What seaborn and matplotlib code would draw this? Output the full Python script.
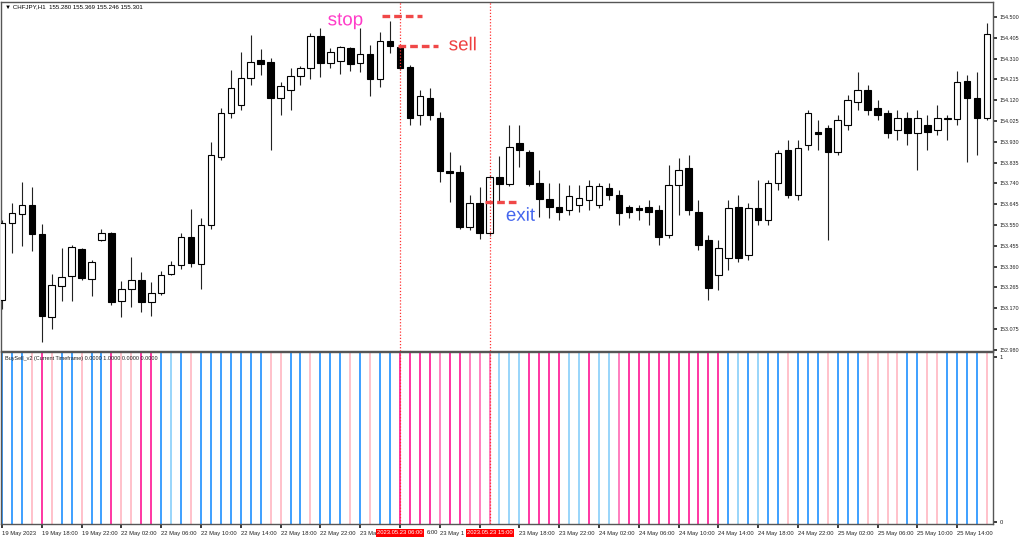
import numpy as np
import matplotlib
matplotlib.use('Agg')
import matplotlib.pyplot as plt
import matplotlib.patheffects as pe
import matplotlib.transforms as mtransforms
import seaborn as sns

sns.set_theme(style="white")
plt.rcParams['font.family'] = ['Liberation Sans', 'DejaVu Sans']

# ── candle data (CHFJPY H1) ─────────────────────────────────
opens = [153.208, 153.560, 153.601, 153.642, 153.509, 153.130, 153.272, 153.318, 153.441, 153.304,
         153.482, 153.514, 153.204, 153.258, 153.299, 153.199, 153.240, 153.327, 153.368, 153.496,
         153.373, 153.551, 153.861, 154.062, 154.098, 154.222, 154.304, 154.295, 154.130, 154.167,
         154.231, 154.267, 154.413, 154.290, 154.299, 154.358, 154.290, 154.331, 154.217, 154.390,
         154.363, 154.272, 154.052, 154.130, 154.039, 153.797, 153.792, 153.541, 153.651, 153.514,
         153.769, 153.737, 153.925, 153.884, 153.742, 153.669, 153.632, 153.619, 153.642, 153.664,
         153.642, 153.719, 153.687, 153.632, 153.628, 153.632, 153.619, 153.505, 153.733, 153.810,
         153.610, 153.482, 153.322, 153.400, 153.632, 153.413, 153.628, 153.573, 153.742, 153.893,
         153.687, 153.916, 153.975, 153.993, 153.884, 154.007, 154.112, 154.167, 154.085, 154.062,
         153.984, 154.039, 153.970, 154.007, 153.984, 154.034, 154.034, 154.208, 154.130, 154.039]
highs = [153.573, 153.651, 153.747, 153.724, 153.555, 153.327, 153.446, 153.459, 153.445, 153.391,
         153.532, 153.518, 153.295, 153.404, 153.336, 153.290, 153.340, 153.386, 153.514, 153.624,
         153.582, 153.929, 154.085, 154.258, 154.340, 154.418, 154.354, 154.313, 154.203, 154.267,
         154.276, 154.427, 154.450, 154.358, 154.365, 154.363, 154.450, 154.372, 154.432, 154.482,
         154.372, 154.281, 154.167, 154.176, 154.066, 153.884, 153.824, 153.687, 153.724, 153.779,
         153.865, 154.007, 154.007, 153.893, 153.801, 153.742, 153.742, 153.733, 153.733, 153.756,
         153.742, 153.742, 153.710, 153.642, 153.642, 153.664, 153.642, 153.824, 153.856, 153.870,
         153.664, 153.505, 153.482, 153.664, 153.687, 153.651, 153.756, 153.756, 153.893, 153.938,
         153.938, 154.075, 154.030, 154.007, 154.052, 154.144, 154.249, 154.190, 154.121, 154.075,
         154.075, 154.066, 154.075, 154.052, 154.098, 154.052, 154.253, 154.235, 154.249, 154.473]
lows = [153.167, 153.423, 153.455, 153.432, 153.016, 153.075, 153.204, 153.204, 153.300, 153.226,
        153.477, 153.185, 153.130, 153.176, 153.153, 153.135, 153.230, 153.322, 153.350, 153.359,
        153.258, 153.532, 153.847, 154.039, 154.075, 154.190, 154.235, 153.893, 154.052, 154.075,
        154.190, 154.217, 154.226, 154.267, 154.240, 154.253, 154.249, 154.139, 154.180, 154.336,
        154.258, 154.007, 154.007, 154.030, 153.747, 153.655, 153.532, 153.527, 153.486, 153.500,
        153.651, 153.728, 153.815, 153.728, 153.587, 153.582, 153.573, 153.596, 153.610, 153.619,
        153.628, 153.664, 153.550, 153.582, 153.573, 153.550, 153.459, 153.491, 153.596, 153.596,
        153.436, 153.208, 153.254, 153.345, 153.381, 153.390, 153.550, 153.550, 153.710, 153.674,
        153.664, 153.893, 153.893, 153.482, 153.870, 153.984, 154.075, 154.052, 154.030, 153.948,
        153.938, 153.916, 153.801, 153.893, 153.961, 153.938, 154.007, 153.838, 153.870, 154.030]
closes = [153.560, 153.605, 153.642, 153.509, 153.135, 153.277, 153.313, 153.450, 153.309, 153.382,
          153.514, 153.199, 153.258, 153.299, 153.199, 153.240, 153.322, 153.368, 153.496, 153.377,
          153.551, 153.870, 154.062, 154.176, 154.222, 154.295, 154.286, 154.130, 154.185, 154.231,
          154.267, 154.413, 154.290, 154.340, 154.363, 154.286, 154.331, 154.217, 154.390, 154.368,
          154.267, 154.039, 154.139, 154.052, 153.797, 153.788, 153.541, 153.651, 153.514, 153.769,
          153.737, 153.906, 153.893, 153.737, 153.669, 153.632, 153.610, 153.683, 153.674, 153.728,
          153.728, 153.687, 153.605, 153.610, 153.619, 153.610, 153.496, 153.733, 153.801, 153.619,
          153.459, 153.263, 153.445, 153.628, 153.400, 153.628, 153.573, 153.742, 153.879, 153.687,
          153.902, 154.062, 153.966, 153.884, 154.030, 154.121, 154.167, 154.075, 154.052, 153.970,
          154.039, 153.970, 154.039, 153.975, 154.039, 154.039, 154.203, 154.130, 154.039, 154.422]

# BuySell_v2 signal per bar: B strong buy, b weak buy, P strong sell, h sell, p weak sell
signals = list("BBBpPpBBpBBPppPPBbBpBBBBBBBppBBpBBBpBpBBPPPPhPPhhhbbbPPPPbbPbbhPPPPPPPPPPBbBbBBpBBBpBBBppppBBppBBBBpB")
signal_colors = {'B': '#1E90FF', 'b': '#87CEFA', 'P': '#FF1493', 'h': '#FF69B4', 'p': '#FFB6C1'}

price_ticks = [154.500, 154.405, 154.310, 154.215, 154.120, 154.025, 153.930, 153.835, 153.740,
               153.645, 153.550, 153.455, 153.360, 153.265, 153.170, 153.075, 152.980]
time_ticks = list(range(0, 100, 4))
time_labels = ['19 May 2023', '19 May 18:00', '19 May 22:00', '22 May 02:00', '22 May 06:00',
               '22 May 10:00', '22 May 14:00', '22 May 18:00', '22 May 22:00', '23 May 02:00',
               '23 May 06:00', '23 May 10:00', '23 May 14:00', '23 May 18:00', '23 May 22:00',
               '24 May 02:00', '24 May 06:00', '24 May 10:00', '24 May 14:00', '24 May 18:00',
               '24 May 22:00', '25 May 02:00', '25 May 06:00', '25 May 10:00', '25 May 14:00']

marked_bars = [40, 49]
marked_labels = ['2023.05.23 06:00', '2023.05.23 15:00']

# hand-drawn levels: (price, first bar, last bar)
stop_level = (154.505, 38.2, 42.2)
sell_level = (154.368, 39.8, 43.8)
exit_level = (153.655, 48.5, 51.9)

# ── figure ──────────────────────────────────────────────────
fig = plt.figure(figsize=(10.24, 5.42), dpi=100)
fig.patch.set_facecolor('white')
ax = fig.add_axes([1 / 1024, 191 / 542, 992 / 1024, 349 / 542])
ax2 = fig.add_axes([1 / 1024, 18 / 542, 992 / 1024, 172 / 542])

idx = np.arange(len(opens))
o = np.array(opens); c = np.array(closes)
up = c >= o
body_low = np.minimum(o, c)
body_h = np.maximum(np.abs(c - o), 0.002)

ax.vlines(idx, lows, highs, color='#222222', lw=0.8, zorder=2)
ax.bar(idx, body_h, bottom=body_low, width=0.66,
       color=np.where(up, 'white', 'black'), edgecolor='black', lw=0.8, zorder=3)

ax.set_xlim(-0.1, 99.6)
ax.set_ylim(152.975, 154.568)
ax.yaxis.tick_right()
ax.set_yticks(price_ticks)
ax.set_yticklabels([f'{p:.3f}' for p in price_ticks])
ax.tick_params(axis='y', labelsize=3.9, length=3, pad=2, colors='#222222', right=True, direction='out')
ax.set_xticks([])

# signal histogram
for i, s in enumerate(signals):
    ax2.axvline(i, color=signal_colors[s], lw=1.2, zorder=1)
ax2.set_xlim(-0.1, 99.6)
ax2.set_ylim(-0.012, 1.03)
ax2.yaxis.tick_right()
ax2.set_yticks([0, 1])
ax2.set_yticklabels(['0', '1'])
ax2.tick_params(axis='y', labelsize=4.2, length=3, pad=2, colors='#222222', right=True, direction='out')

# labels partly hidden behind the red date boxes show only their visible part
shown_labels = list(time_labels)
shown_labels[9] = '23 Ma'
shown_labels[10] = ''
shown_labels[11] = '23 May 1'
shown_labels[12] = ''
ax2.set_xticks(time_ticks)
ax2.set_xticklabels(shown_labels)
ax2.tick_params(axis='x', labelsize=4.2, length=3, pad=2, colors='#222222', bottom=True, direction='out')
for lab in ax2.get_xticklabels():
    lab.set_ha('left')

for a in (ax, ax2):
    for sp in a.spines.values():
        sp.set_color('#555555')
        sp.set_linewidth(1.0)
    for b in marked_bars:
        a.axvline(b, color='#FF3030', lw=0.9, ls=(0, (1, 1.5)), zorder=4)

trans = mtransforms.blended_transform_factory(ax2.transData, ax2.transAxes)
for b, lab in zip(marked_bars, marked_labels):
    ax2.text(b, -0.052, lab, transform=trans, ha='center', va='center', fontsize=4.2,
             color='white', zorder=10, clip_on=False,
             bbox=dict(boxstyle='square,pad=0.2', fc='#FF0000', ec='none'))
ax2.text(42.65, -0.052, '6:00', transform=trans, ha='left', va='center', fontsize=4.2,
         color='#222222', clip_on=False)

ax.text(0.004, 0.986, '\u25bc CHFJPY,H1  155.280 155.369 155.246 155.301', transform=ax.transAxes,
        ha='left', va='center', fontsize=4.4, color='black')
ax2.text(0.004, 0.965, 'BuySell_v2 (Current Timeframe) 0.0000 1.0000 0.0000 0.0000',
         transform=ax2.transAxes, ha='left', va='center', fontsize=4.0, color='#222222', zorder=6)

# annotations
for price, x0, x1 in (stop_level, sell_level, exit_level):
    ax.plot([x0, x1], [price, price], color='#F04848', lw=2.4, ls=(0, (2.3, 1.2)), zorder=5,
            solid_capstyle='butt')

halo = [pe.withStroke(linewidth=3.5, foreground='white')]
ax.text(34.5, 154.482, 'stop', fontsize=13.5, color='#FF3CC8', ha='center', va='center',
        zorder=6, path_effects=halo)
ax.text(46.3, 154.368, 'sell', fontsize=13.5, color='#EE4040', ha='center', va='center',
        zorder=6, path_effects=halo)
ax.text(52.1, 153.590, 'exit', fontsize=13.5, color='#4466EE', ha='center', va='center',
        zorder=6, path_effects=halo)

fig.savefig('out.png', dpi=100, facecolor='white')
